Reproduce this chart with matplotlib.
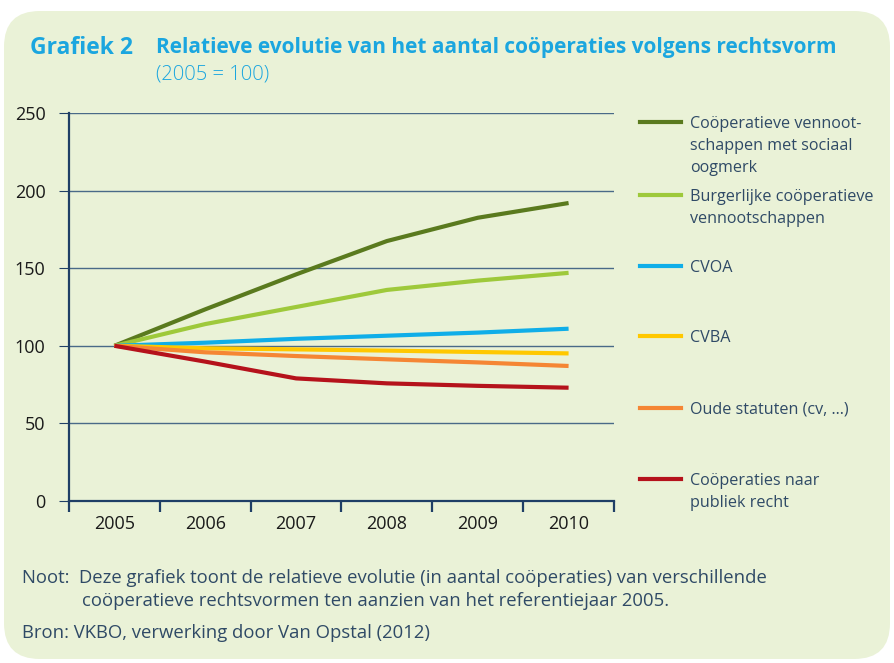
import matplotlib.pyplot as plt
from matplotlib.patches import FancyBboxPatch

plt.rcParams["font.family"] = ["Open Sans", "DejaVu Sans"]

years = ["2005", "2006", "2007", "2008", "2009", "2010"]
sociaal = [100, 123.5, 146, 167.5, 182.5, 192]
burgerlijk = [100, 114, 125, 136, 142, 147]
cvoa = [100, 102, 104.5, 106.5, 108.5, 111]
cvba = [100, 98.4, 97.7, 96.9, 96, 95.1]
oude = [100, 95.8, 93.4, 91.3, 89.3, 87]
publiek = [100, 89.8, 79, 75.8, 74.2, 73]

series = [
    (sociaal, "#5a7a1e", "Coöperatieve vennoot-\nschappen met sociaal\noogmerk"),
    (burgerlijk, "#9ec93b", "Burgerlijke coöperatieve\nvennootschappen"),
    (cvoa, "#10aee8", "CVOA"),
    (cvba, "#ffc800", "CVBA"),
    (oude, "#f58634", "Oude statuten (cv, ...)"),
    (publiek, "#b5121b", "Coöperaties naar\npubliek recht"),
]

bg = "#eaf2d7"
navy = "#1f3f66"
txt = "#2f4a66"
blue = "#1ba6df"

W, H = 895, 663
fig = plt.figure(figsize=(W / 100, H / 100), dpi=100)
fig.patch.set_facecolor("white")

panel = FancyBboxPatch((4 / W, 4 / H), 886 / W, 648 / H,
                       boxstyle="round,pad=0,rounding_size=0.04",
                       transform=fig.transFigure, facecolor=bg, edgecolor="none",
                       mutation_aspect=W / H, zorder=-10)
fig.patches.append(panel)

ax = fig.add_axes([69 / W, 1 - 501 / H, 545 / W, 388 / H])
ax.set_facecolor("none")

x = list(range(len(years)))
for vals, col, lab in series:
    ax.plot(x, vals, color=col, lw=3, solid_capstyle="butt")

ax.set_xlim(-0.5, 5.5)
ax.set_ylim(0, 250)
ax.set_yticks([0, 50, 100, 150, 200, 250])
ax.yaxis.grid(True, color="#4a6a88", lw=1)
ax.set_axisbelow(True)
for s in ["top", "right"]:
    ax.spines[s].set_visible(False)
for s in ["left", "bottom"]:
    ax.spines[s].set_color(navy)
    ax.spines[s].set_linewidth(1.6)
ax.tick_params(axis="y", length=7, color=navy, labelsize=13, labelcolor="#1a1a1a", pad=10)
ax.set_xticks(x)
ax.set_xticklabels(years)
ax.set_xticks([i - 0.5 for i in range(len(years) + 1)], minor=True)
ax.tick_params(axis="x", which="major", length=0, labelsize=13, labelcolor="#1a1a1a", pad=10)
ax.tick_params(axis="x", which="minor", length=8, width=1.6, color=navy)

# legend at right
leg_y = [122, 195, 266, 336, 408, 479]
for (vals, col, lab), yy in zip(series, leg_y):
    fy = 1 - yy / H
    fig.add_artist(plt.Line2D([640 / W, 681 / W], [fy, fy], color=col, lw=3,
                              transform=fig.transFigure))
    fig.text(690 / W, 1 - (yy - 6) / H, lab, fontsize=11.6, color=txt,
             va="top", ha="left", linespacing=1.5)

fig.text(30 / W, 1 - 48 / H, "Grafiek 2", fontsize=16.5, fontweight="bold",
         color=blue, va="center")
fig.text(156 / W, 1 - 48 / H, "Relatieve evolutie van het aantal coöperaties volgens rechtsvorm",
         fontsize=15, fontweight="bold", color=blue, va="center")
fig.text(156 / W, 1 - 75 / H, "(2005 = 100)", fontsize=14.5, fontweight="light",
         color=blue, va="center")

fig.text(22 / W, 1 - 578 / H, "Noot:  Deze grafiek toont de relatieve evolutie (in aantal coöperaties) van verschillende",
         fontsize=13.3, color=txt, va="center")
fig.text(82 / W, 1 - 601 / H, "coöperatieve rechtsvormen ten aanzien van het referentiejaar 2005.",
         fontsize=13.3, color=txt, va="center")
fig.text(22 / W, 1 - 633 / H, "Bron: VKBO, verwerking door Van Opstal (2012)",
         fontsize=13.3, color=txt, va="center")

fig.savefig("out.png", dpi=100, facecolor=fig.get_facecolor())
